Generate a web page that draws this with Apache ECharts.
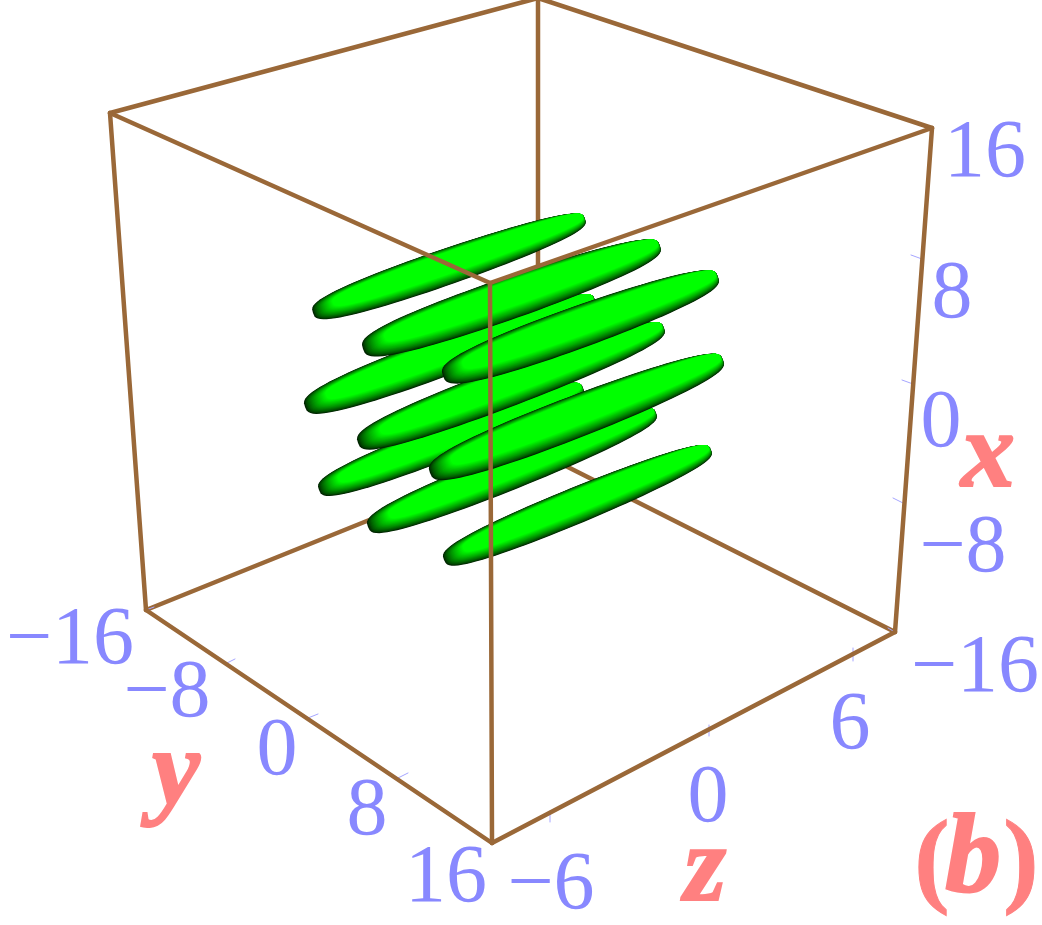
<!DOCTYPE html>
<html><head><meta charset="utf-8">
<style>html,body{margin:0;padding:0;background:#fff}#c{width:1042px;height:925px}</style>
<script src="https://cdn.jsdelivr.net/npm/echarts@6/dist/echarts.min.js"></script>
</head><body><div id="c"></div>
<script>
const corners = {
  topBack:[538,-2], topLeft:[110,113], topRight:[932,128], topFront:[490,283],
  botBack:[538,452], botLeft:[146,610], botRight:[895,632], botFront:[492,843]
};
const backEdges = [['topBack','botBack'],['botBack','botLeft'],['botBack','botRight']];
const frontEdges = [['topLeft','topBack'],['topBack','topRight'],['topLeft','topFront'],['topFront','topRight'],
  ['topLeft','botLeft'],['topRight','botRight'],['topFront','botFront'],['botLeft','botFront'],['botFront','botRight']];
const tickSegments = [
  [227,663,235,659],[308,718,318,714],[398,778,408,773],
  [550,811,550,822],[709,725,709,736],[853,648,853,661],
  [911,255,922,259],[902,380,913,384],[893,498,903,503],
  [146,610,154,607],[492,843,500,839],[895,632,888,628],[932,128,925,125]
];
// Ellipsoids in paint order (rear column first)
const ellipsoidLeftEnd  = [[313,313],[305,407],[319,490],[363,349],[358,443],[368,527],[443,376],[430,473],[444,560]];
const ellipsoidRightEnd = [[585,219],[595,300],[583,388],[660,246],[664,328],[656,413],[718,277],[723,360],[711,450]];
const ellipsoidHalfWidth = [18,20,18,21,20,19,21,21,18];
// Tick and axis labels
const tickLabels = [
  ['16',985,154],['8',952,295],['0',941,424],['\u22128',963,549],['\u221216',975,669],
  ['\u221216',70,641],['\u22128',167,694],['0',277,752],['8',367,812],['16',446,879],
  ['\u22126',551,886],['0',708,799],['6',850,726]
];
const axisLabels = [['x',988,458],['y',176,776],['z',705,872]];
const panelParens = [['(',932,866],[')',1021,866]];
const panelLetter = [['b',973,862]];

const chart = echarts.init(document.getElementById('c'), null, {renderer:'canvas'});
function edgeRows(list){ return list.map(e => corners[e[0]].concat(corners[e[1]])); }
function segmentSeries(rows, color, width, z){
  return {type:'custom', coordinateSystem:'cartesian2d', silent:true, z, clip:false, data:rows,
    encode:{x:[0,2], y:[1,3]},
    renderItem(p, api){
      const a = api.coord([api.value(0),api.value(1)]), b = api.coord([api.value(2),api.value(3)]);
      return {type:'line', shape:{x1:a[0],y1:a[1],x2:b[0],y2:b[1]}, style:{stroke:color,lineWidth:width,lineCap:'round'}};
    }};
}
function textSeries(rows, font, color, z, bold){
  return {type:'custom', coordinateSystem:'cartesian2d', silent:true, z, clip:false, data:rows.map(r=>[r[1],r[2],r[0]]),
    encode:{x:0,y:1},
    renderItem(p, api){
      const c = api.coord([api.value(0),api.value(1)]);
      return {type:'text', x:c[0], y:c[1], style:{text:String(rows[p.dataIndex][0]), font, fill:color, align:'center', verticalAlign:'middle',
        stroke:bold?color:null, lineWidth:bold||0}};
    }};
}
const LAYERS = 20, FMAX = 0.4;
const ellipsoidSeries = {type:'custom', coordinateSystem:'cartesian2d', silent:true, z:5, clip:false,
  data: ellipsoidLeftEnd.map((l,i)=>[l[0],l[1],ellipsoidRightEnd[i][0],ellipsoidRightEnd[i][1],ellipsoidHalfWidth[i]]),
  encode:{x:[0,2],y:[1,3]},
  renderItem(p, api){
    const a = api.coord([api.value(0),api.value(1)]), b = api.coord([api.value(2),api.value(3)]);
    const W = api.value(4), mx=(a[0]+b[0])/2, my=(a[1]+b[1])/2;
    const dx=b[0]-a[0], dy=b[1]-a[1], len=Math.hypot(dx,dy), L=len/2, ux=dx/len, uy=dy/len;
    const nx=uy, ny=-ux; // normal pointing up on screen
    const children=[];
    for(let k=0;k<=LAYERS;k++){
      const f=FMAX*k/LAYERS, g=Math.round(35+220*Math.pow(k/LAYERS,0.75));
      const lw=W*(1-f), ll=L*(1-f*0.2), su=W*f*0.45, sa=L*f*0.18;
      const pts=[];
      for(let j=0;j<96;j++){
        const th=j/96*2*Math.PI, t=Math.cos(th), s=Math.sin(th);
        const w=lw*Math.sign(s)*Math.pow(Math.abs(s),0.62)*(1-0.05*t);
        const along=ll*t+sa, perp=w+su;
        pts.push([mx+ux*along+nx*perp, my+uy*along+ny*perp]);
      }
      children.push({type:'polygon',shape:{points:pts},style:{fill:'rgb(0,'+g+',0)'}});
    }
    return {type:'group',children};
  }};

chart.setOption({
  animation:false, backgroundColor:'#fff',
  grid:{left:0,right:0,top:0,bottom:0},
  xAxis:{type:'value',min:0,max:1042,show:false},
  yAxis:{type:'value',min:0,max:925,inverse:true,show:false},
  series:[
    segmentSeries(edgeRows(backEdges),'#9a6838',4.5,2),
    segmentSeries(tickSegments,'#a6a6ff',1,3),
    ellipsoidSeries,
    segmentSeries(edgeRows(frontEdges),'#9a6838',4.5,8),
    textSeries(tickLabels,'82px "Liberation Serif"','#8888ff',10),
    textSeries(axisLabels,'italic bold 108px "Liberation Serif"','#ff8080',11,2),
    textSeries(panelParens,'bold 106px "Liberation Serif"','#ff8080',11,1),
    textSeries(panelLetter,'italic bold 112px "Liberation Serif"','#ff8080',11,2)
  ]
});
</script></body></html>
